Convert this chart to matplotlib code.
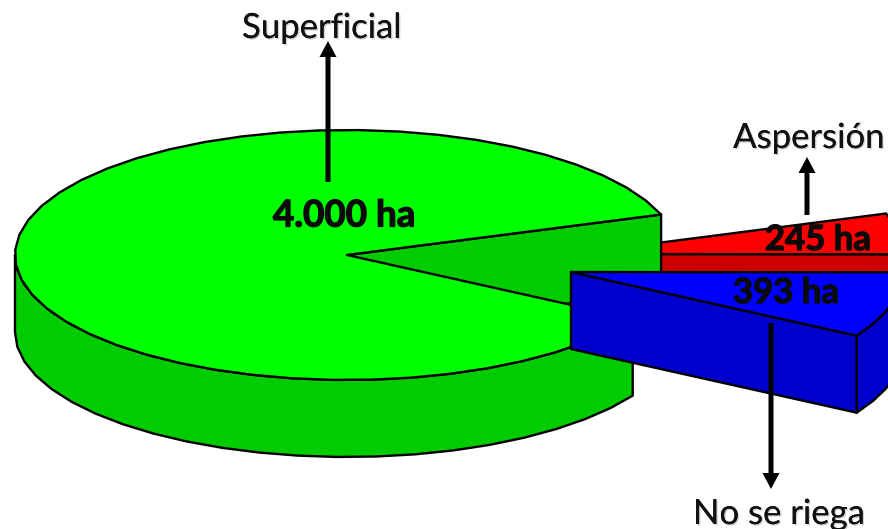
import numpy as np
import matplotlib
matplotlib.use("Agg")
import matplotlib.pyplot as plt
from matplotlib.patches import Polygon, FancyArrow
import matplotlib.patheffects as pe

categories = ["Superficial", "Aspersión", "No se riega"]
values = [4000, 245, 393]
value_labels = ["4.000 ha", "245 ha", "393 ha"]
light = ["#00FF00", "#FF0000", "#0000FF"]
dark = ["#00CC00", "#CC0000", "#0000CC"]

W, H = 888, 529
RX, RY, DEPTH = 332, 125, 77
START = 18.9
apex = {"Superficial": (347, 255), "Aspersión": (572, 254), "No se riega": (571, 272)}
STEP = 7.0

plt.rcParams["font.family"] = ["Lato", "DejaVu Sans"]
fig = plt.figure(figsize=(W / 100, H / 100), dpi=100)
ax = fig.add_axes([0, 0, 1, 1])
ax.set_xlim(0, W)
ax.set_ylim(H, 0)
ax.axis("off")

LW = 1.7
EDGE = dict(edgecolor="black", linewidth=LW, joinstyle="round")


def rim(c, a0, a1):
    n = max(2, int(abs(a1 - a0) / STEP) + 2)
    t = np.radians(np.linspace(a0, a1, n))
    return np.column_stack([c[0] + RX * np.cos(t), c[1] - RY * np.sin(t)])


def down(p):
    return np.asarray(p) + [0, DEPTH]


# slice angles (clockwise from START for red/blue; green takes the remainder)
sweep = np.array(values) / sum(values) * 360
g0, g1 = START, START + sweep[0]          # green goes counter-clockwise
r0, r1 = START, START - sweep[1]
b0, b1 = r1, r1 - sweep[2]


def add(pts, color, z):
    ax.add_patch(Polygon(pts, closed=True, facecolor=color, zorder=z, **EDGE))


# red slice (behind green)
c = apex["Aspersión"]
end = rim(c, r1, r1)[0]
add([c, end, down(end), down(c)], dark[1], 1)
add(np.vstack([[c], rim(c, r0, r1)]), light[1], 2)

# green slice
c = apex["Superficial"]
front = rim(c, 180, g1)
add(np.vstack([front, down(front)[::-1]]), dark[0], 3)
corner = rim(c, g0, g0)[0]
add([c, corner, down(corner), down(c)], dark[0], 4)
add(np.vstack([[c], rim(c, g0, g1)]), light[0], 5)

# blue slice (in front)
c = apex["No se riega"]
end = rim(c, b1, b1)[0]
wall = rim(c, b1, b0)
add(np.vstack([wall, down(wall)[::-1]]), dark[2], 6)
add([c, end, down(end), down(c)], dark[2], 7)
add(np.vstack([[c], rim(c, b0, b1)]), light[2], 8)

# arrows
arrow = dict(width=5, head_width=17, head_length=16, length_includes_head=True,
             color="black", linewidth=0, zorder=9)
ax.add_patch(FancyArrow(328, 182, 0, -141, **arrow))
ax.add_patch(FancyArrow(807, 215, 0, -58, **arrow))
ax.add_patch(FancyArrow(771, 323, 0, 166, **arrow))

# text
shadow = [pe.withSimplePatchShadow(offset=(1, -1), shadow_rgbFace="gray", alpha=0.35), pe.Normal()]
heavy = [pe.withStroke(linewidth=0.9, foreground="#0a0a0a")]
for name, x, y in [("Superficial", 322, 28), ("Aspersión", 809, 138), ("No se riega", 779, 514)]:
    ax.text(x, y, name, fontsize=25, color="#111111", ha="center", va="center",
            zorder=10, path_effects=shadow)
for lab, x, y, fs in [(value_labels[0], 344, 216, 26.5), (value_labels[1], 818, 240, 25), (value_labels[2], 786, 293, 25)]:
    ax.text(x, y, lab, fontsize=fs, fontweight="bold", color="#0a0a0a", ha="center", va="center",
            zorder=10, path_effects=heavy)

fig.savefig("out.png", dpi=100, facecolor="white")
